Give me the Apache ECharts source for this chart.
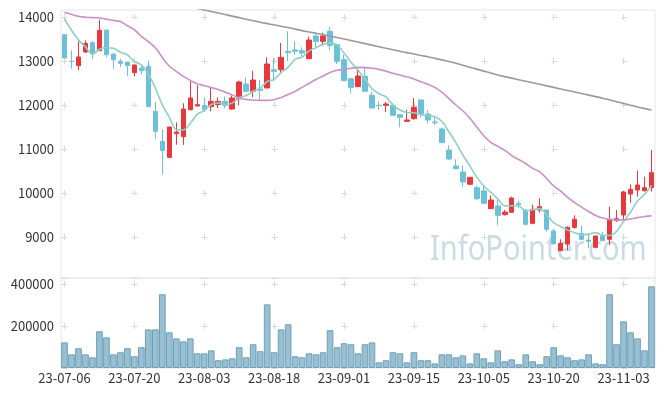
<!DOCTYPE html>
<html><head><meta charset="utf-8">
<script src="https://cdn.jsdelivr.net/npm/echarts@6/dist/echarts.min.js"></script>
<style>html,body{margin:0;padding:0;background:#fff}#c{width:665px;height:396px}</style>
</head><body><div id="c"></div>
<script>
const dates = ['23-07-06','23-07-07','23-07-10','23-07-11','23-07-12','23-07-13','23-07-14','23-07-17','23-07-18','23-07-19',
'23-07-20','23-07-21','23-07-24','23-07-25','23-07-26','23-07-27','23-07-28','23-07-31','23-08-01','23-08-02',
'23-08-03','23-08-04','23-08-07','23-08-08','23-08-09','23-08-10','23-08-11','23-08-14','23-08-16','23-08-17',
'23-08-18','23-08-21','23-08-22','23-08-23','23-08-24','23-08-25','23-08-28','23-08-29','23-08-30','23-08-31',
'23-09-01','23-09-04','23-09-05','23-09-06','23-09-07','23-09-08','23-09-11','23-09-12','23-09-13','23-09-14',
'23-09-15','23-09-18','23-09-19','23-09-20','23-09-21','23-09-22','23-09-25','23-09-26','23-09-27','23-10-04',
'23-10-05','23-10-06','23-10-10','23-10-11','23-10-12','23-10-13','23-10-16','23-10-17','23-10-18','23-10-19',
'23-10-20','23-10-23','23-10-24','23-10-25','23-10-26','23-10-27','23-10-30','23-10-31','23-11-01','23-11-02',
'23-11-03','23-11-06','23-11-07','23-11-08','23-11-09'];

const opens = [13598,12992,12894,13205,13417,13235,13704,13159,12992,12977,
12735,12841,12879,11856,11174,10810,11348,11280,11894,11977,
11992,11962,12008,12083,11909,12144,12477,12311,12363,12386,
12803,12803,13220,13250,13235,13053,13568,13447,13674,13371,
13030,12598,12417,12651,12220,11992,11992,11992,11780,11629,
11689,12114,11795,11614,11455,10977,10614,10477,10197,10121,
10045,9644,9705,9508,9561,9765,9614,9311,9614,9614,
9136,8689,8841,9220,9083,8932,8765,9023,8947,9371,
9500,9977,10068,10053,10121];
const closes = [13068,12985,13091,13401,13167,13697,13144,13030,12947,12894,
12909,12780,11962,11401,10962,11500,11386,11909,12159,12008,
11894,12083,12083,11992,12159,12523,12311,12568,12333,12932,
12765,13083,13189,13220,13182,13477,13447,13568,13356,12992,
12553,12401,12659,12311,11932,11985,12023,11765,11720,11659,
11947,11795,11659,11598,11144,10773,10553,10250,10356,9871,
9765,9841,9492,9568,9886,9735,9288,9629,9689,9174,
8841,8856,9220,9402,8947,8902,9023,8917,9386,9417,
10023,10083,10182,10121,10462];
const lows = [13060,12826,12788,13182,13038,13235,13083,12826,12864,12659,
12651,12689,11962,11235,10417,10810,11098,11091,11880,11970,
11841,11856,11932,11932,11894,11992,12311,12174,12106,12386,
12538,12727,12992,13144,13106,13053,13311,13356,13250,12932,
12553,12273,12417,12311,11932,11894,11841,11765,11492,11629,
11667,11720,11583,11545,11144,10750,10553,10129,10197,9841,
9750,9644,9265,9485,9561,9652,9265,9288,9553,9121,
8841,8689,8700,9189,8932,8742,8742,8917,8818,9348,
9386,9780,9917,10030,10030];
const highs = [13600,13242,13447,13470,13447,13939,13704,13159,13053,12977,
12920,12886,13008,12076,11447,11500,11606,12038,12538,12447,
12174,12401,12174,12197,12220,12553,12629,12780,12576,13083,
13068,13409,13674,13447,13311,13553,13659,13644,13780,13371,
13144,12598,12826,12871,12295,12083,12068,12045,11780,11894,
12159,12130,11886,11720,11492,11083,10765,10629,10356,10174,
10159,9947,9856,9614,9917,9826,9629,9735,9879,9614,
9189,8947,9240,9492,9258,9068,9023,9114,9689,9614,
10045,10197,10508,10371,10977];

const volumes = [122000,65000,94000,65000,51000,175000,146000,65000,75000,94000,
56000,99000,184000,184000,351000,170000,141000,127000,141000,70000,
70000,84000,37000,41000,46000,99000,51000,113000,80000,303000,
75000,184000,208000,56000,51000,70000,65000,75000,180000,99000,
118000,113000,70000,113000,122000,27000,37000,75000,70000,27000,
75000,37000,37000,22000,65000,65000,51000,60000,22000,70000,
46000,27000,84000,32000,41000,18000,65000,32000,18000,56000,
99000,60000,51000,37000,41000,65000,22000,18000,351000,113000,
222000,170000,141000,84000,389000];

const ma5 = [13955,13700,13480,13320,13150,13268,13300,13288,13197,13142,
12985,12912,12698,12389,12003,11721,11442,11432,11583,11792,
11871,12011,12045,12012,12042,12168,12214,12311,12379,12533,
12582,12736,12860,13038,13088,13230,13303,13379,13406,13368,
13183,12974,12792,12583,12371,12258,12182,12003,11885,11830,
11823,11777,11756,11732,11629,11394,11145,10864,10615,10361,
10159,10017,9865,9707,9710,9704,9594,9621,9645,9503,
9324,9238,9156,9099,9053,9065,9099,9038,9035,9129,
9353,9565,9818,9965,10174];

const ma20 = [14110,14060,14015,13995,13985,13977,13950,13924,13895,13800,
13710,13560,13440,13300,13080,12880,12765,12650,12560,12480,
12440,12400,12350,12290,12230,12160,12125,12112,12106,12106,
12121,12170,12240,12310,12400,12490,12580,12660,12740,12790,
12810,12835,12856,12850,12835,12810,12770,12720,12680,12640,
12590,12530,12470,12400,12290,12150,12000,11870,11700,11500,
11300,11150,11060,10970,10850,10760,10670,10560,10480,10330,
10160,10040,9900,9780,9680,9580,9490,9430,9400,9390,
9390,9410,9440,9465,9480];

const ma60 = [null,null,null,null,null,null,null,null,null,null,
null,null,null,null,null,null,null,null,null,14195,
14160,14125,14090,14055,14020,13985,13950,13915,13880,13850,
13820,13790,13760,13725,13690,13660,13630,13600,13570,13535,
13500,13465,13430,13395,13360,13325,13290,13255,13220,13190,
13160,13125,13095,13060,13025,12990,12950,12905,12860,12815,
12770,12725,12680,12645,12610,12575,12540,12505,12470,12435,
12400,12365,12330,12295,12260,12225,12190,12155,12115,12075,
12035,11995,11955,11920,11886];

const priceTicks = [9000,10000,11000,12000,13000,14000];

const candleData = dates.map((d, i) => [opens[i], closes[i], lows[i], highs[i]]);

const labelFont = { color: '#333', fontSize: 13, fontFamily: 'Noto Sans CJK KR' };
const plain = v => String(v);
const crossColor = '#d8d8d8';

const chart = echarts.init(document.getElementById('c'), null, { renderer: 'canvas' });
chart.setOption({
  animation: false,
  backgroundColor: '#fff',
  grid: [
    { left: 61, right: 10, top: 10, height: 268, show: true, borderColor: '#e6e6e6', borderWidth: 1, backgroundColor: 'transparent' },
    { left: 61, right: 10, top: 278, height: 90, show: true, borderColor: '#e6e6e6', borderWidth: 1, backgroundColor: 'transparent' }
  ],
  graphic: [{
    type: 'text', x: 430, y: 268, scaleX: 0.83, z: -1, silent: true,
    style: { text: 'InfoPointer.com', fontSize: 35, fontFamily: 'Noto Sans', fill: '#c9dbe5', verticalAlign: 'bottom' }
  }],
  xAxis: [
    { type: 'category', gridIndex: 0, data: dates, boundaryGap: true,
      axisLine: { show: false }, axisTick: { show: false }, axisLabel: { show: false },
      splitLine: { show: true, interval: 9, alignWithLabel: true, lineStyle: { color: crossColor, width: 1, type: [6, 38], dashOffset: 40 } } },
    { type: 'category', gridIndex: 1, data: dates, boundaryGap: true,
      axisLine: { show: false }, axisTick: { show: false },
      axisLabel: Object.assign({ interval: 9, margin: 4 }, labelFont),
      splitLine: { show: true, interval: 9, alignWithLabel: true, lineStyle: { color: crossColor, width: 1, type: [6, 36], dashOffset: 39 } } }
  ],
  yAxis: [
    { type: 'value', gridIndex: 0, min: 8068, max: 14159,
      axisLine: { show: false }, axisTick: { show: false, customValues: priceTicks },
      axisLabel: Object.assign({ customValues: priceTicks, margin: 7, formatter: plain }, labelFont),
      splitLine: { show: true, lineStyle: { color: crossColor, width: 1, type: [6, 64], dashOffset: 69.5 } } },
    { type: 'value', gridIndex: 1, min: 0, max: 428571, interval: 200000,
      axisLine: { show: false }, axisTick: { show: false },
      axisLabel: Object.assign({ showMinLabel: false, showMaxLabel: false, margin: 7, formatter: plain }, labelFont),
      splitLine: { show: true, lineStyle: { color: crossColor, width: 1, type: [6, 64], dashOffset: 69.5 } } }
  ],
  series: [
    { type: 'candlestick', xAxisIndex: 0, yAxisIndex: 0, data: candleData, barWidth: 5,
      itemStyle: { color: '#e8383d', color0: '#6cc1d9', borderColor: '#e8383d', borderColor0: '#6cc1d9', borderWidth: 1 } },
    { type: 'line', name: 'MA5', xAxisIndex: 0, yAxisIndex: 0, data: ma5, showSymbol: false, smooth: 0.35,
      lineStyle: { color: '#8fd0c3', width: 1.6 }, z: 3 },
    { type: 'line', name: 'MA20', xAxisIndex: 0, yAxisIndex: 0, data: ma20, showSymbol: false, smooth: 0.35,
      lineStyle: { color: '#cc8fc9', width: 1.6 }, z: 3 },
    { type: 'line', name: 'MA60', xAxisIndex: 0, yAxisIndex: 0, data: ma60, showSymbol: false, smooth: 0.35,
      lineStyle: { color: '#9a9a9a', width: 1.6 }, z: 3 },
    { type: 'bar', xAxisIndex: 1, yAxisIndex: 1, data: volumes, barCategoryGap: '5%',
      itemStyle: { color: '#98c0d2', borderColor: '#6e9fb8', borderWidth: 1 } }
  ]
});
</script></body></html>
